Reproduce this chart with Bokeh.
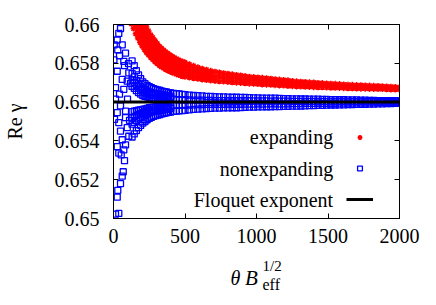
from bokeh.plotting import figure
from bokeh.layouts import column
from bokeh.models import (Range1d, FixedTicker, CustomJSTickFormatter, LinearAxis,
                          Label, Legend, LegendItem, ColumnDataSource)
from bokeh.embed import file_html
from bokeh.resources import INLINE

# ---------------- data ----------------
x_ticks = [0, 500, 1000, 1500, 2000]
y_ticks = [0.65, 0.652, 0.654, 0.656, 0.658, 0.66]

legend_labels = ["expanding", "nonexpanding", "Floquet exponent"]

# Floquet exponent
floq_x = [0, 2000]
floq_y = [0.656, 0.656]

# expanding (red stars): band read as lower / middle / upper traces
red_x = [110, 125, 140, 155, 170, 185, 200, 215, 230, 245, 260, 275, 290, 305, 320,
         335, 350, 365, 380, 395, 410, 425, 440, 455, 470, 485, 500, 530, 560, 590,
         620, 650, 680, 710, 740, 770, 800, 830, 860, 890, 920, 950, 980, 1010, 1040,
         1070, 1100, 1130, 1160, 1190, 1220, 1250, 1280, 1310, 1340, 1370, 1400, 1430,
         1460, 1490, 1520, 1550, 1580, 1610, 1640, 1670, 1700, 1730, 1760, 1790, 1820,
         1850, 1880, 1910, 1940, 1970, 2000]
red_lo = [0.66031, 0.66004, 0.65979, 0.65952, 0.65930, 0.65908, 0.65889, 0.65872, 0.65856, 0.65843,
          0.65830, 0.65819, 0.65808, 0.65799, 0.65790, 0.65782, 0.65775, 0.65769, 0.65763, 0.65758,
          0.65753, 0.65749, 0.65744, 0.65740, 0.65736, 0.65733, 0.65731, 0.65727, 0.65723, 0.65720,
          0.65717, 0.65714, 0.65711, 0.65709, 0.65707, 0.65706, 0.65704, 0.65702, 0.65700, 0.65699,
          0.65697, 0.65695, 0.65694, 0.65693, 0.65691, 0.65690, 0.65689, 0.65687, 0.65686, 0.65685,
          0.65683, 0.65682, 0.65681, 0.65680, 0.65679, 0.65678, 0.65677, 0.65676, 0.65676, 0.65675,
          0.65674, 0.65674, 0.65673, 0.65672, 0.65671, 0.65671, 0.65670, 0.65669, 0.65669, 0.65668,
          0.65668, 0.65667, 0.65667, 0.65666, 0.65665, 0.65665, 0.65664]
red_mid = [0.66106, 0.66079, 0.66053, 0.66027, 0.66004, 0.65980, 0.65960, 0.65940, 0.65922, 0.65905,
           0.65889, 0.65876, 0.65863, 0.65851, 0.65840, 0.65830, 0.65822, 0.65814, 0.65807, 0.65801,
           0.65795, 0.65789, 0.65784, 0.65779, 0.65774, 0.65771, 0.65768, 0.65761, 0.65755, 0.65750,
           0.65745, 0.65741, 0.65736, 0.65733, 0.65730, 0.65728, 0.65725, 0.65723, 0.65720, 0.65718,
           0.65716, 0.65713, 0.65712, 0.65710, 0.65708, 0.65707, 0.65705, 0.65703, 0.65701, 0.65700,
           0.65698, 0.65696, 0.65694, 0.65693, 0.65692, 0.65690, 0.65689, 0.65688, 0.65687, 0.65686,
           0.65685, 0.65684, 0.65683, 0.65682, 0.65681, 0.65680, 0.65679, 0.65678, 0.65678, 0.65677,
           0.65676, 0.65675, 0.65675, 0.65674, 0.65672, 0.65672, 0.65671]
red_hi = [0.66180, 0.66153, 0.66127, 0.66101, 0.66077, 0.66052, 0.66030, 0.66008, 0.65987, 0.65967,
          0.65947, 0.65932, 0.65917, 0.65903, 0.65889, 0.65878, 0.65868, 0.65859, 0.65851, 0.65843,
          0.65836, 0.65829, 0.65823, 0.65818, 0.65812, 0.65808, 0.65804, 0.65795, 0.65787, 0.65779,
          0.65772, 0.65767, 0.65761, 0.65757, 0.65753, 0.65749, 0.65746, 0.65743, 0.65740, 0.65737,
          0.65734, 0.65731, 0.65729, 0.65727, 0.65725, 0.65723, 0.65721, 0.65718, 0.65716, 0.65714,
          0.65712, 0.65709, 0.65707, 0.65705, 0.65704, 0.65702, 0.65701, 0.65699, 0.65698, 0.65696,
          0.65695, 0.65694, 0.65693, 0.65691, 0.65690, 0.65689, 0.65688, 0.65687, 0.65686, 0.65685,
          0.65684, 0.65683, 0.65682, 0.65681, 0.65679, 0.65678, 0.65677]
# extra traces in the wide part of the red band (first 33 x values)
red_q1 = [0.66069, 0.66042, 0.66016, 0.65990, 0.65967, 0.65944, 0.65925, 0.65906, 0.65889, 0.65874,
          0.65860, 0.65848, 0.65836, 0.65825, 0.65815, 0.65806, 0.65799, 0.65792, 0.65785, 0.65780,
          0.65774, 0.65769, 0.65764, 0.65760, 0.65755, 0.65752, 0.65750, 0.65744, 0.65739, 0.65735,
          0.65731, 0.65728, 0.65724]
red_q3 = [0.66143, 0.66116, 0.66090, 0.66064, 0.66041, 0.66016, 0.65995, 0.65974, 0.65955, 0.65936,
          0.65918, 0.65904, 0.65890, 0.65877, 0.65865, 0.65854, 0.65845, 0.65837, 0.65829, 0.65822,
          0.65816, 0.65809, 0.65804, 0.65799, 0.65793, 0.65790, 0.65786, 0.65778, 0.65771, 0.65765,
          0.65759, 0.65754, 0.65749]

# nonexpanding (blue squares): band traces
blue_x = [130, 145, 160, 175, 190, 205, 220, 235, 250, 265, 280, 295, 310, 325, 340, 355, 370,
          385, 400, 420, 440, 460, 480, 500, 530, 560, 590, 620, 650, 680, 710, 740, 770, 800,
          830, 860, 890, 920, 950, 980, 1010, 1040, 1070, 1100, 1130, 1160, 1190, 1220, 1250,
          1280, 1310, 1340, 1370, 1400, 1430, 1460, 1490, 1520, 1550, 1580, 1610, 1640, 1670,
          1700, 1730, 1760, 1790, 1820, 1850, 1880, 1910, 1940, 1970, 2000]
blue_hi = [0.65812, 0.65788, 0.65762, 0.65740, 0.65721, 0.65704, 0.65695, 0.65686, 0.65680, 0.65674,
           0.65669, 0.65666, 0.65663, 0.65660, 0.65657, 0.65654, 0.65652, 0.65649, 0.65647,
           0.65645, 0.65643, 0.65642, 0.65640, 0.65639,
           0.65636, 0.65634, 0.65633, 0.65632, 0.65630, 0.65629, 0.65628, 0.65627, 0.65627, 0.65626,
           0.65625, 0.65625, 0.65624, 0.65624, 0.65623, 0.65622, 0.65622, 0.65621, 0.65621, 0.65620,
           0.65620, 0.65619, 0.65618, 0.65618, 0.65617, 0.65617, 0.65616, 0.65616, 0.65615, 0.65615,
           0.65615, 0.65614, 0.65614, 0.65613, 0.65613, 0.65612, 0.65612, 0.65611, 0.65611, 0.65611,
           0.65610, 0.65610, 0.65609, 0.65609, 0.65608, 0.65608, 0.65607, 0.65607, 0.65607, 0.65606]
blue_a = [0.65681, 0.65671, 0.65659, 0.65649, 0.65641, 0.65633, 0.65630, 0.65627, 0.65625, 0.65623,
          0.65622, 0.65621, 0.65620, 0.65619, 0.65618, 0.65617, 0.65616, 0.65615, 0.65614,
          0.65614, 0.65613, 0.65613, 0.65612, 0.65612,
          0.65611, 0.65610, 0.65610, 0.65610, 0.65609, 0.65609, 0.65608, 0.65608, 0.65608, 0.65607,
          0.65607, 0.65607, 0.65607, 0.65607, 0.65607, 0.65606, 0.65606, 0.65606, 0.65606, 0.65605,
          0.65606, 0.65605, 0.65605, 0.65605, 0.65604, 0.65604, 0.65604, 0.65604, 0.65604, 0.65604,
          0.65604, 0.65604, 0.65604, 0.65604, 0.65604, 0.65603, 0.65603, 0.65603, 0.65603, 0.65603,
          0.65603, 0.65603, 0.65603, 0.65603, 0.65602, 0.65602, 0.65602, 0.65602, 0.65602, 0.65602]
blue_b = [0.65551, 0.65553, 0.65556, 0.65559, 0.65560, 0.65563, 0.65565, 0.65568, 0.65571, 0.65573,
          0.65574, 0.65575, 0.65576, 0.65577, 0.65578, 0.65579, 0.65581, 0.65581, 0.65582,
          0.65583, 0.65583, 0.65584, 0.65584, 0.65584,
          0.65585, 0.65586, 0.65587, 0.65587, 0.65588, 0.65588, 0.65589, 0.65588, 0.65589, 0.65589,
          0.65589, 0.65589, 0.65589, 0.65590, 0.65590, 0.65590, 0.65591, 0.65590, 0.65591, 0.65591,
          0.65591, 0.65591, 0.65591, 0.65591, 0.65592, 0.65592, 0.65592, 0.65593, 0.65593, 0.65593,
          0.65594, 0.65593, 0.65594, 0.65594, 0.65594, 0.65595, 0.65595, 0.65595, 0.65595, 0.65596,
          0.65595, 0.65596, 0.65596, 0.65596, 0.65597, 0.65597, 0.65597, 0.65597, 0.65598, 0.65598]
blue_lo = [0.65420, 0.65436, 0.65453, 0.65468, 0.65480, 0.65492, 0.65500, 0.65509, 0.65516, 0.65522,
           0.65527, 0.65530, 0.65533, 0.65536, 0.65539, 0.65542, 0.65545, 0.65547, 0.65549,
           0.65552, 0.65553, 0.65555, 0.65556, 0.65557,
           0.65560, 0.65562, 0.65564, 0.65565, 0.65567, 0.65568, 0.65569, 0.65569, 0.65570, 0.65570,
           0.65571, 0.65571, 0.65572, 0.65573, 0.65574, 0.65574, 0.65575, 0.65575, 0.65576, 0.65576,
           0.65577, 0.65577, 0.65578, 0.65578, 0.65579, 0.65579, 0.65580, 0.65581, 0.65582, 0.65582,
           0.65583, 0.65583, 0.65584, 0.65585, 0.65585, 0.65586, 0.65586, 0.65587, 0.65587, 0.65588,
           0.65588, 0.65589, 0.65590, 0.65590, 0.65591, 0.65591, 0.65592, 0.65592, 0.65593, 0.65594]
# extra traces in the wide part of the blue band (first 19 x values)
blue_q_top = [0.65747, 0.65730, 0.65711, 0.65695, 0.65681, 0.65669, 0.65663, 0.65657, 0.65653, 0.65649,
              0.65646, 0.65644, 0.65642, 0.65640, 0.65638, 0.65636, 0.65634, 0.65632, 0.65631]
blue_r_top = [0.65714, 0.65701, 0.65685, 0.65672, 0.65661, 0.65651, 0.65647, 0.65642, 0.65639, 0.65636,
              0.65634, 0.65633, 0.65631, 0.65630, 0.65628, 0.65627, 0.65625, 0.65624, 0.65623]
blue_r_bot = [0.65519, 0.65524, 0.65531, 0.65537, 0.65540, 0.65546, 0.65549, 0.65554, 0.65558, 0.65561,
              0.65563, 0.65564, 0.65566, 0.65567, 0.65569, 0.65570, 0.65572, 0.65573, 0.65574]
blue_q_bot = [0.65486, 0.65495, 0.65505, 0.65514, 0.65520, 0.65528, 0.65533, 0.65539, 0.65544, 0.65548,
              0.65551, 0.65553, 0.65555, 0.65557, 0.65559, 0.65561, 0.65563, 0.65564, 0.65566]
# scattered blue points at small theta
blue_sx = [5, 49, 37, 26, 61, 30, 84, 72, 3, 42, 77, 105, 26, 107, 61, 96, 14, 72, 119, 42,
           14, 98, 49, 26, 84, 7, 112, 84, 37, 96, 49, 107, 61, 84, 26, 72, 54, 37, 77, 68,
           61, 49, 30, 26, 37, 14]
blue_sy = [0.65895, 0.65979, 0.65954, 0.65920, 0.65895, 0.65869, 0.65852, 0.65810, 0.65818, 0.65839,
           0.65788, 0.65798, 0.65759, 0.65751, 0.65717, 0.65708, 0.65675, 0.65666, 0.65697, 0.65641,
           0.65615, 0.65615, 0.65581, 0.65546, 0.65553, 0.65511, 0.65506, 0.65520, 0.65494, 0.65468,
           0.65450, 0.65424, 0.65406, 0.65380, 0.65370, 0.65354, 0.65328, 0.65337, 0.65298, 0.65241,
           0.65218, 0.65180, 0.65145, 0.65110, 0.65026, 0.65023]

# ---------------- figure ----------------
SERIF = "'Liberation Serif', 'Times New Roman', serif"

p = figure(frame_width=286, frame_height=194,
           x_range=Range1d(0, 2000), y_range=Range1d(0.65, 0.66),
           output_backend="svg", toolbar_location=None,
           min_border_left=113, min_border_right=37, min_border_top=24, min_border_bottom=36)
p.background_fill_color = "white"
p.border_fill_color = "white"
p.grid.visible = False
p.outline_line_color = "black"
p.outline_line_width = 1

nq = len(red_q1)
red_src = ColumnDataSource(dict(
    x=red_x + red_x + red_x + red_x[:nq] + red_x[:nq],
    y=red_lo + red_mid + red_hi + red_q1 + red_q3))
nb = len(blue_q_top)
blue_src = ColumnDataSource(dict(
    x=blue_x * 4 + blue_x[:nb] * 4 + blue_sx,
    y=(blue_hi + blue_a + blue_b + blue_lo + blue_q_top + blue_r_top + blue_r_bot
       + blue_q_bot + blue_sy)))

red_r = p.scatter("x", "y", source=red_src, marker="asterisk", size=6,
                  line_color="#ff0000", line_width=1.5)
blue_r = p.scatter("x", "y", source=blue_src, marker="square", size=6,
                   line_color="#0000ff", fill_color=None, line_width=1.3)
line_r = p.line(floq_x, floq_y, line_color="black", line_width=3)

xa = p.xaxis[0]
ya = p.yaxis[0]
xa.ticker = FixedTicker(ticks=x_ticks)
ya.ticker = FixedTicker(ticks=y_ticks)
ya.formatter = CustomJSTickFormatter(code="return String(parseFloat(tick.toFixed(3)));")

top = LinearAxis(ticker=FixedTicker(ticks=x_ticks),
                 formatter=CustomJSTickFormatter(code="return '';"))
right = LinearAxis(ticker=FixedTicker(ticks=y_ticks),
                   formatter=CustomJSTickFormatter(code="return '';"))
p.add_layout(top, "above")
p.add_layout(right, "right")

for ax in (xa, ya, top, right):
    ax.major_tick_in = 5
    ax.major_tick_out = 0
    ax.minor_tick_line_color = None
    ax.axis_line_color = "black"
    ax.major_tick_line_color = "black"
    ax.major_label_text_font = SERIF
    ax.major_label_text_font_size = "20px"
    ax.major_label_text_color = "black"
for ax in (top, right):
    ax.major_label_text_font_size = "0px"
    ax.major_label_standoff = 0

xa.major_label_standoff = 10
ya.major_label_standoff = 14
ya.axis_label = "Re γ"
ya.axis_label_text_font = SERIF
ya.axis_label_text_font_size = "20px"
ya.axis_label_text_font_style = "normal"
ya.axis_label_text_color = "black"
ya.axis_label_standoff = 26

# legend: symbols via Legend, texts right-aligned to their left
legend = Legend(items=[LegendItem(label=" ", renderers=[red_r]),
                       LegendItem(label=" ", renderers=[blue_r]),
                       LegendItem(label=" ", renderers=[line_r])],
                location=(233, 13), orientation="vertical",
                glyph_width=27, glyph_height=12, label_height=12, label_width=1,
                spacing=19, padding=0, margin=0, label_standoff=0,
                label_text_font_size="1px",
                border_line_alpha=0, background_fill_alpha=0)
p.add_layout(legend)

legend_y = [0.65419, 0.65256, 0.65096]
for txt, yv in zip(legend_labels, legend_y):
    p.add_layout(Label(x=1536, y=yv, text=txt, text_align="right", text_baseline="middle",
                       text_font=SERIF, text_font_size="20px", text_color="black"))

# x-axis title strip below the plot (shares the x scale; y in strip pixels)
q = figure(width=436, height=51, x_range=p.x_range, y_range=Range1d(0, 51),
           x_axis_type=None, y_axis_type=None, output_backend="svg", toolbar_location=None,
           min_border=0)
q.outline_line_color = None
q.background_fill_color = "white"
q.border_fill_color = "white"
q.add_layout(Label(x=818, y=28, text="θ", text_font=SERIF, text_font_size="20px",
                   text_font_style="italic", text_baseline="alphabetic", text_color="black"))
q.add_layout(Label(x=920, y=28, text="B", text_font=SERIF, text_font_size="21px",
                   text_font_style="italic", text_baseline="alphabetic", text_color="black"))
q.add_layout(Label(x=1042, y=21, text="eff", text_font=SERIF, text_font_size="16px",
                   text_baseline="alphabetic", text_color="black"))
q.add_layout(Label(x=1042, y=40, text="1/2", text_font=SERIF, text_font_size="15px",
                   text_baseline="alphabetic", text_color="black"))

layout = column(p, q, spacing=0)
open("out.html", "w").write(file_html(layout, INLINE))
